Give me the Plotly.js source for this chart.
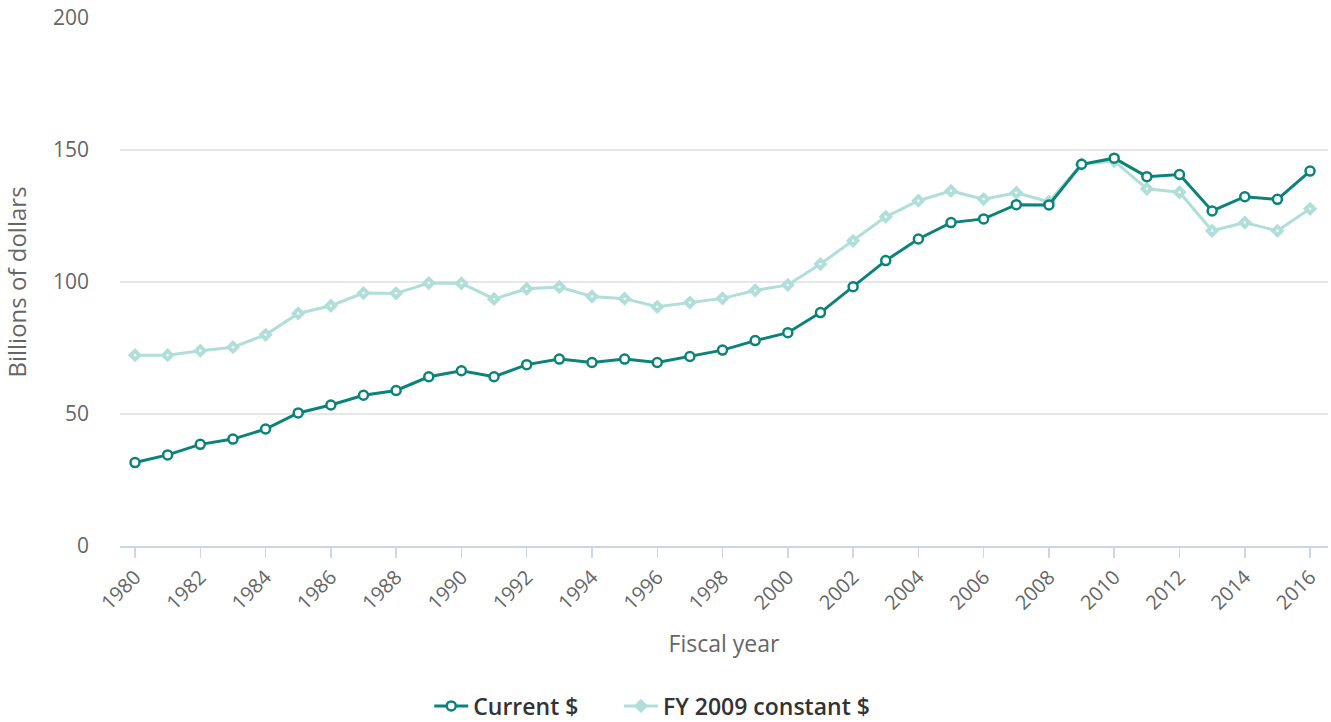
<!DOCTYPE html>
<html>
<head>
<meta charset="utf-8">
<script src="https://cdn.plot.ly/plotly-3.0.1.min.js"></script>
<style>
html,body{margin:0;padding:0;background:#fff;}
#chart{width:1331px;height:722px;}
</style>
</head>
<body>
<div id="chart"></div>
<script>
const years = [1980,1981,1982,1983,1984,1985,1986,1987,1988,1989,1990,1991,1992,1993,1994,1995,1996,1997,1998,1999,2000,2001,2002,2003,2004,2005,2006,2007,2008,2009,2010,2011,2012,2013,2014,2015,2016];
const currentDollars = [31.6,34.5,38.5,40.5,44.3,50.4,53.4,57.1,58.9,64.1,66.4,64.1,68.7,70.8,69.5,70.8,69.5,71.8,74.2,77.8,80.8,88.4,98.2,108.1,116.3,122.5,123.9,129.3,129.2,144.6,146.9,139.9,140.7,126.9,132.3,131.3,142.0];
const constantDollars = [72.3,72.3,74.0,75.3,80.0,88.1,91.0,95.8,95.7,99.6,99.5,93.6,97.4,98.1,94.5,93.7,90.6,92.2,93.8,96.8,98.9,106.8,115.6,124.7,130.8,134.5,131.4,133.8,130.4,144.6,145.8,135.3,134.0,119.4,122.5,119.4,127.7];
const seriesNames = ["Current $", "FY 2009 constant $"];
const xTickVals = [1980,1982,1984,1986,1988,1990,1992,1994,1996,1998,2000,2002,2004,2006,2008,2010,2012,2014,2016];
const yTickVals = [0,50,100,150,200];

const dark = "#0b837a";
const light = "#b0ded9";

const traces = [
  {
    x: years, y: constantDollars, name: seriesNames[1], type: "scatter", mode: "lines+markers",
    legend: "legend2",
    line: {color: light, width: 3},
    marker: {symbol: "diamond", size: 11, color: light, line: {width: 0}}
  },
  {
    x: years, y: constantDollars, type: "scatter", mode: "markers", showlegend: false, hoverinfo: "skip",
    marker: {symbol: "circle", size: 2.5, color: "#ffffff", line: {width: 0}}
  },
  {
    x: years, y: currentDollars, name: seriesNames[0], type: "scatter", mode: "lines+markers",
    legend: "legend",
    line: {color: dark, width: 3},
    marker: {symbol: "circle", size: 9, color: "#ffffff", line: {color: dark, width: 2.5}}
  }
];

const legendBase = {
  orientation: "h", xanchor: "left", y: -0.303, yanchor: "middle",
  font: {size: 23, color: "#333333", weight: 600},
  itemwidth: 34, bgcolor: "rgba(0,0,0,0)"
};

const layout = {
  width: 1331, height: 722,
  margin: {l: 120, r: 3, t: 18, b: 176, autoexpand: false},
  paper_bgcolor: "#fff", plot_bgcolor: "#fff",
  font: {family: "Open Sans, sans-serif", color: "#666666", size: 20},
  showlegend: true,
  legend: Object.assign({}, legendBase, {x: 0.256}),
  legend2: Object.assign({}, legendBase, {x: 0.413}),
  xaxis: {
    automargin: false,
    range: [1979.54, 2016.55],
    tickvals: xTickVals, ticktext: xTickVals.map(String),
    tickangle: -45,
    ticks: "outside", ticklen: 10, tickcolor: "#ccd6eb", tickwidth: 1.5,
    showline: true, linecolor: "#ccd6eb", linewidth: 1.5,
    showgrid: false, zeroline: false,
    tickfont: {size: 20, color: "#666666"},
    title: {text: "Fiscal year", font: {size: 23, color: "#666666"}, standoff: 21}
  },
  yaxis: {
    automargin: false,
    range: [0, 200],
    tickvals: yTickVals,
    showgrid: true, gridcolor: "#e6e6e6", gridwidth: 1.5,
    zeroline: false, showline: false, ticks: "",
    ticklabelstandoff: 30,
    tickfont: {size: 21, color: "#666666"},
    title: {text: "Billions of dollars", font: {size: 24, color: "#666666"}, standoff: 20}
  }
};

Plotly.newPlot("chart", traces, layout, {displayModeBar: false, staticPlot: true});
</script>
</body>
</html>
